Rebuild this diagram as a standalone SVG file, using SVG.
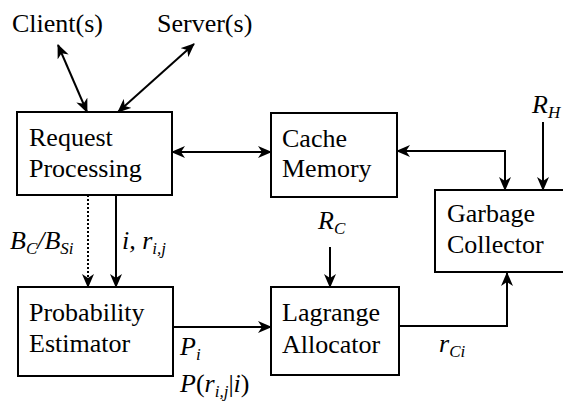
<svg xmlns="http://www.w3.org/2000/svg" width="563" height="401" viewBox="0 0 563 401">
<style>
.t{font-family:'Liberation Serif',serif;font-size:26px;fill:#000}
.i{font-family:'Liberation Serif',serif;font-size:26px;font-style:italic;fill:#000}
.sub{font-size:17px}
.box{fill:#fff;stroke:#000;stroke-width:2}
.c{fill:none;stroke:#000;stroke-width:2}
.dot{stroke-dasharray:2 2}
</style>
<defs>
<marker id="ah" viewBox="0 0 14 12" refX="13" refY="6" markerWidth="14" markerHeight="12" markerUnits="userSpaceOnUse" orient="auto-start-reverse">
<path d="M0,0 L14,6 L0,12 L4,6 z" fill="#000"/>
</marker>
</defs>
<g id="connectors">
<line class="c" x1="58" y1="45" x2="87" y2="112" marker-start="url(#ah)" marker-end="url(#ah)"/>
<line class="c" x1="194" y1="44" x2="118" y2="112" marker-start="url(#ah)" marker-end="url(#ah)"/>
<path class="c" d="M172,152 H271" marker-start="url(#ah)" marker-end="url(#ah)"/>
<path class="c" d="M397,151 H505 V190" marker-start="url(#ah)" marker-end="url(#ah)"/>
<path class="c" d="M543,122 V190" marker-end="url(#ah)"/>
<path class="c dot" d="M88,195 V287" marker-end="url(#ah)"/>
<path class="c" d="M116,195 V287" marker-end="url(#ah)"/>
<path class="c" d="M173,327 H271" marker-end="url(#ah)"/>
<path class="c" d="M330,247 V287" marker-end="url(#ah)"/>
<path class="c" d="M399,326 H507 V273" marker-end="url(#ah)"/>
</g>
<g id="client"><text x="12" y="32" class="t">Client(s)</text></g>
<g id="server"><text x="157" y="32" class="t">Server(s)</text></g>
<g id="request-processing">
<rect class="box" x="17" y="112" width="155" height="83"/>
<text x="29" y="146" class="t">Request</text>
<text x="29" y="177" class="t">Processing</text>
</g>
<g id="cache-memory">
<rect class="box" x="271" y="113" width="126" height="84"/>
<text x="282" y="147" class="t">Cache</text>
<text x="282" y="177" class="t">Memory</text>
</g>
<g id="garbage-collector">
<rect class="box" x="435" y="190" width="140" height="82"/>
<text x="447" y="222" class="t">Garbage</text>
<text x="447" y="253" class="t">Collector</text>
</g>
<g id="probability-estimator">
<rect class="box" x="18" y="287" width="155" height="89"/>
<text x="29" y="321" class="t">Probability</text>
<text x="29" y="352" class="t">Estimator</text>
</g>
<g id="lagrange-allocator">
<rect class="box" x="271" y="287" width="128" height="88"/>
<text x="282" y="321" class="t">Lagrange</text>
<text x="282" y="353" class="t">Allocator</text>
</g>
<g id="labels">
<text x="532" y="113" class="i">R<tspan class="sub" dy="5">H</tspan></text>
<text x="318" y="229" class="i">R<tspan class="sub" dy="5">C</tspan></text>
<text x="10" y="249" class="i">B<tspan class="sub" dy="5">C</tspan><tspan dy="-5">/B</tspan><tspan class="sub" dy="5">Si</tspan></text>
<text x="122" y="249" class="i">i, r<tspan class="sub" dy="5">i,j</tspan></text>
<text x="180" y="355" class="i">P<tspan class="sub" dy="5">i</tspan></text>
<text x="180" y="392" class="i">P<tspan font-style="normal">(</tspan>r<tspan class="sub" dy="5">i,j</tspan><tspan dy="-5" font-style="normal">|</tspan>i<tspan font-style="normal">)</tspan></text>
<text x="439" y="352" class="i">r<tspan class="sub" dy="5">Ci</tspan></text>
</g>
</svg>
